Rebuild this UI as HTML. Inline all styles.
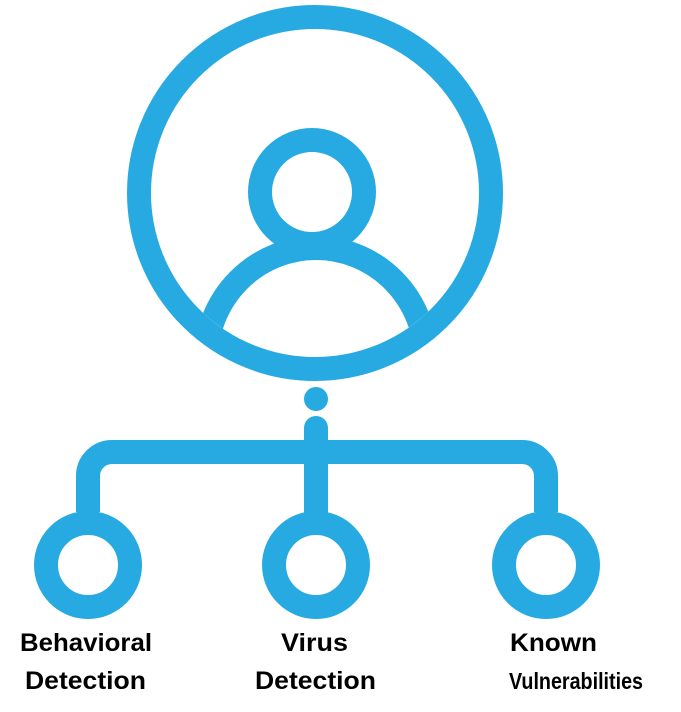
<!DOCTYPE html>
<html><head><style>html,body{margin:0;padding:0;background:#fff}svg{display:block}</style></head>
<body>
<svg width="681" height="712" viewBox="0 0 681 712" xmlns="http://www.w3.org/2000/svg">
<defs><clipPath id="c"><circle cx="315" cy="193" r="164"/></clipPath></defs>
<g fill="none" stroke="#27aae1" stroke-width="24">
<circle cx="315" cy="193" r="176"/>
<circle cx="312" cy="192" r="52"/>
<ellipse cx="316" cy="360" rx="110" ry="112" clip-path="url(#c)"/>
<path d="M88 512 V476 A24 24 0 0 1 112 452 H522 A24 24 0 0 1 546 476 V512"/>
<path d="M316 428 V512" stroke-linecap="round"/>
<circle cx="88" cy="565" r="42"/>
<circle cx="316" cy="565" r="42"/>
<circle cx="546" cy="565" r="42"/>
</g>
<circle cx="316" cy="399" r="12" fill="#27aae1"/>
<g font-family="Liberation Sans, sans-serif" font-weight="bold" font-size="25" fill="#000">
<text x="20" y="651" textLength="132" lengthAdjust="spacingAndGlyphs">Behavioral</text>
<text x="25" y="689" textLength="121" lengthAdjust="spacingAndGlyphs">Detection</text>
<text x="281" y="651" textLength="67" lengthAdjust="spacingAndGlyphs">Virus</text>
<text x="255" y="689" textLength="121" lengthAdjust="spacingAndGlyphs">Detection</text>
<text x="510" y="651" textLength="87" lengthAdjust="spacingAndGlyphs">Known</text>
<text x="509" y="689" font-size="23" textLength="134" lengthAdjust="spacingAndGlyphs">Vulnerabilities</text>
</g>
</svg>
</body></html>
